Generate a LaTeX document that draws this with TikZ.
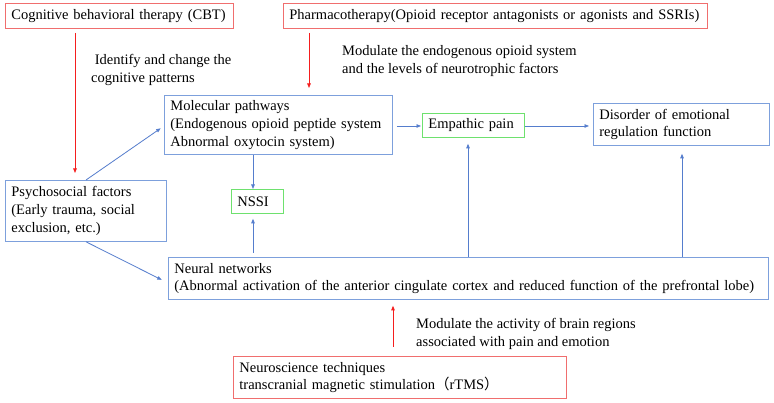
\documentclass[tikz,border=0pt]{standalone}
\usepackage{fontspec}
\setmainfont{Liberation Serif}
\newfontfamily\cjk{Noto Sans CJK SC}
\usetikzlibrary{arrows.meta}
\definecolor{boxred}{RGB}{240,110,110}
\definecolor{arrred}{RGB}{245,30,30}
\definecolor{boxblue}{RGB}{125,160,220}
\definecolor{arrblue}{RGB}{85,125,205}
\definecolor{boxgreen}{RGB}{110,225,110}
\tikzset{
  base/.style={draw, line width=0.8pt, anchor=north west, inner xsep=6pt, inner ysep=0pt,
    align=left, font=\fontsize{14.5}{17.7}\selectfont},
  redbox/.style={base, draw=boxred},
  bluebox/.style={base, draw=boxblue},
  greenbox/.style={base, draw=boxgreen},
  lbl/.style={anchor=west, inner sep=0pt, align=left, font=\fontsize{14.5}{17.7}\selectfont},
  redarr/.style={draw=arrred, line width=0.8pt, -{Triangle[length=4.5pt,width=3.5pt]}, arrred},
  bluearr/.style={draw=arrblue, line width=0.8pt, -{Triangle[length=4.5pt,width=3.5pt]}, arrblue},
}
\begin{document}
\begin{tikzpicture}[x=1pt,y=-1pt]
\useasboundingbox (0,0) rectangle (774,403);
\fill[white] (0,0) rectangle (774,403);
% boxes
\node[redbox, text width=216pt, minimum height=25pt] (cbt) at (5,3) {Cognitive behavioral therapy (CBT)};
\node[redbox, text width=412pt, minimum height=25pt] (pha) at (283,3) {Pharmacotherapy(Opioid receptor antagonists or agonists and SSRIs)};
\node[bluebox, text width=216pt, minimum height=59pt] (mol) at (164,95) {Molecular pathways\\(Endogenous opioid peptide system\\Abnormal oxytocin system)};
\node[bluebox, text width=149pt, minimum height=61pt] (psy) at (5,180) {Psychosocial factors\\(Early trauma, social\\exclusion, etc.)};
\node[greenbox, text width=40pt, minimum height=24pt] (nssi) at (231,189) {NSSI};
\node[greenbox, text width=90pt, minimum height=24pt] (emp) at (422,113) {Empathic pain};
\node[bluebox, text width=164pt, minimum height=42pt] (dis) at (593,103) {Disorder of emotional\\regulation function};
\node[bluebox, text width=588pt, minimum height=42pt] (neu) at (168,257) {Neural networks\\(Abnormal activation of the anterior cingulate cortex and reduced function of the prefrontal lobe)};
\node[redbox, text width=321pt, minimum height=42pt] (nsc) at (233,356) {Neuroscience techniques\\transcranial magnetic stimulation{\cjk （}rTMS{\cjk ）}};
% labels
\node[lbl] (l1) at (91,70) {\ Identify and change the\\cognitive patterns};
\node[lbl] (l2) at (342,61) {Modulate the endogenous opioid system\\and the levels of neurotrophic factors};
\node[lbl] (l3) at (416,334) {Modulate the activity of brain regions\\associated with pain and emotion};
% helper coordinates
\coordinate (xa) at (75,0);
\coordinate (xb) at (309,0);
\coordinate (xc) at (253,0);
\coordinate (xd) at (468,0);
\coordinate (xe) at (682,0);
\coordinate (xf) at (393,0);
\coordinate (xg) at (86,0);
\coordinate (ya) at (0,126);
\coordinate (yb) at (0,283);
% red arrows
\draw[redarr, shorten <=4pt, shorten >=7pt] (cbt.south -| xa) -- (psy.north -| xa);
\draw[redarr, shorten <=4pt, shorten >=7pt] (pha.south -| xb) -- (mol.north -| xb);
\draw[redarr, shorten <=9pt, shorten >=6pt] (nsc.north -| xf) -- (neu.south -| xf);
% blue arrows
\draw[bluearr] (mol.south -| xc) -- (nssi.north -| xc);
\draw[bluearr, shorten <=4pt, shorten >=5pt] (neu.north -| xc) -- (nssi.south -| xc);
\draw[bluearr, shorten >=6pt] (neu.north -| xd) -- (emp.south -| xd);
\draw[bluearr, shorten >=8pt] (neu.north -| xe) -- (dis.south -| xe);
\draw[bluearr, shorten <=4pt, shorten >=1pt] (mol.east |- ya) -- (emp.west |- ya);
\draw[bluearr, shorten >=4pt] (emp.east |- ya) -- (dis.west |- ya);
\draw[bluearr, shorten >=4pt] (psy.north -| xg) -- (mol.west |- ya);
\draw[bluearr, shorten >=7pt] (psy.south -| xg) -- (neu.west |- yb);
\end{tikzpicture}
\end{document}
